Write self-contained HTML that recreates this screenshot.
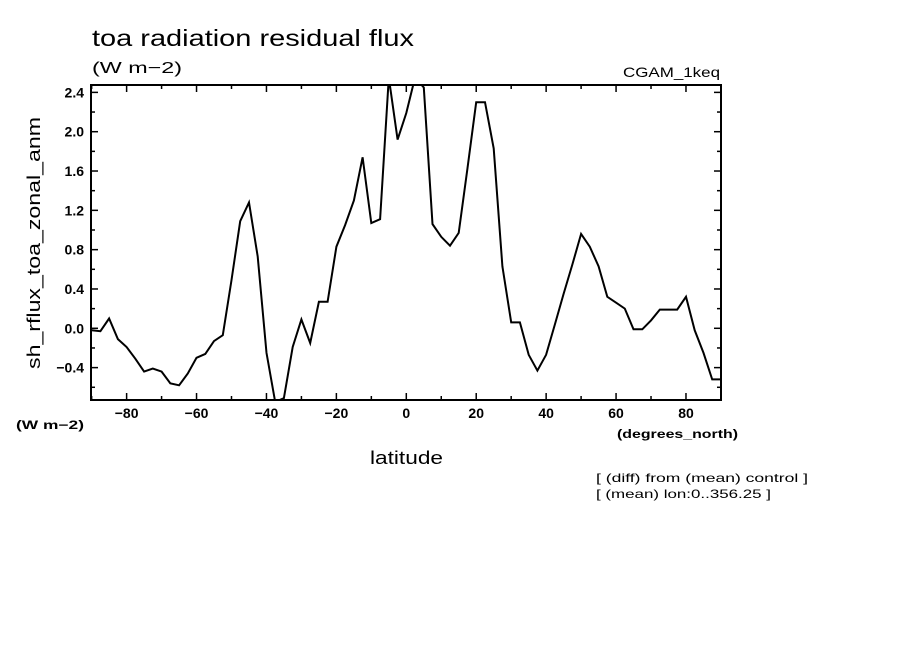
<!DOCTYPE html>
<html><head><meta charset="utf-8"><style>
body{margin:0;background:#fff;}
svg text{font-family:"Liberation Sans",sans-serif;fill:#000;}
</style></head><body>
<svg width="904" height="654" viewBox="0 0 904 654">
<text x="92" y="46" font-size="23" textLength="322" lengthAdjust="spacingAndGlyphs">toa radiation residual flux</text>
<text x="92" y="73" font-size="16" textLength="90" lengthAdjust="spacingAndGlyphs">(W m−2)</text>
<text x="623" y="77" font-size="14" textLength="97" lengthAdjust="spacingAndGlyphs">CGAM_1keq</text>
<text transform="translate(40,243) rotate(-90)" font-size="18" text-anchor="middle" textLength="252" lengthAdjust="spacingAndGlyphs">sh_rflux_toa_zonal_anm</text>
<text x="16" y="429" font-size="12" font-weight="bold" textLength="68" lengthAdjust="spacingAndGlyphs">(W m−2)</text>
<text x="370" y="464" font-size="18" textLength="73" lengthAdjust="spacingAndGlyphs">latitude</text>
<text x="617" y="438" font-size="12" font-weight="bold" textLength="121" lengthAdjust="spacingAndGlyphs">(degrees_north)</text>
<text x="596" y="482" font-size="12" textLength="212" lengthAdjust="spacingAndGlyphs">[ (diff) from (mean) control ]</text>
<text x="596" y="498" font-size="12" textLength="175" lengthAdjust="spacingAndGlyphs">[ (mean) lon:0..356.25 ]</text>
<g id="axes"></g>
<clipPath id="clip"><rect x="91" y="85" width="630" height="315"/></clipPath>
<path id="line" fill="none" stroke="#000" stroke-width="2" clip-path="url(#clip)"/>
<rect x="91" y="85" width="630" height="315" fill="none" stroke="#000" stroke-width="2"/>
</svg>
<script>
const lats=[-90,-87.5,-85,-82.5,-80,-77.5,-75,-72.5,-70,-67.5,-65,-62.5,-60,-57.5,-55,-52.5,-50,-47.5,-45,-42.5,-40,-37.5,-35,-32.5,-30,-27.5,-25,-22.5,-20,-17.5,-15,-12.5,-10,-7.5,-5,-2.5,0,2.5,5,7.5,10,12.5,15,17.5,20,22.5,25,27.5,30,32.5,35,37.5,40,42.5,45,47.5,50,52.5,55,57.5,60,62.5,65,67.5,70,72.5,75,77.5,80,82.5,85,87.5,90];
const values=[-0.02,-0.03,0.10,-0.11,-0.19,-0.31,-0.44,-0.41,-0.44,-0.56,-0.58,-0.46,-0.30,-0.26,-0.13,-0.07,0.49,1.09,1.28,0.73,-0.25,-0.75,-0.71,-0.19,0.09,-0.15,0.27,0.27,0.83,1.05,1.30,1.74,1.07,1.11,2.55,1.92,2.19,2.55,2.45,1.06,0.93,0.84,0.97,1.63,2.30,2.30,1.83,0.63,0.06,0.06,-0.27,-0.43,-0.27,0.04,0.35,0.65,0.96,0.83,0.63,0.32,0.26,0.20,-0.01,-0.01,0.08,0.19,0.19,0.19,0.32,-0.02,-0.25,-0.52,-0.52];
const xTicks=[-80,-60,-40,-20,0,20,40,60,80];
const yTicks=[-0.4,0.0,0.4,0.8,1.2,1.6,2.0,2.4];
const X=v=>406.3+v*3.496, Y=v=>328.3-v*98.3;
const NS="http://www.w3.org/2000/svg";
const ax=document.getElementById('axes');
function ln(x1,y1,x2,y2,w){const l=document.createElementNS(NS,'line');l.setAttribute('x1',x1);l.setAttribute('y1',y1);l.setAttribute('x2',x2);l.setAttribute('y2',y2);l.setAttribute('stroke','#000');l.setAttribute('stroke-width',w);


ax.appendChild(l);}
function tx(x,y,s,a){const t=document.createElementNS(NS,'text');t.setAttribute('x',x);t.setAttribute('y',y);t.setAttribute('font-size','14');t.setAttribute('font-weight','bold');t.setAttribute('text-anchor',a);t.textContent=s;


ax.appendChild(t);}
for(let v=-90;v<=90;v+=10){const x=X(v),m=v%20===0;ln(x,400,x,400-(m?7:4),1.5);ln(x,85,x,85+(m?7:4),1.5);}
xTicks.forEach(v=>tx(X(v),418,v<0?'−'+(-v):String(v),'middle'));
for(let k=-3;k<=12;k++){const v=k*0.2,y=Y(v);if(y<86||y>399)continue;const m=k%2===0;ln(91,y,91+(m?7:4),y,1.5);ln(721,y,721-(m?7:4),y,1.5);}
yTicks.forEach(v=>tx(84,Y(v)+5,(v<0?'−':'')+Math.abs(v).toFixed(1),'end'));
document.getElementById('line').setAttribute('d',lats.map((la,i)=>(i?'L':'M')+X(la).toFixed(1)+','+Y(values[i]).toFixed(1)).join(''));
</script>
</body></html>
